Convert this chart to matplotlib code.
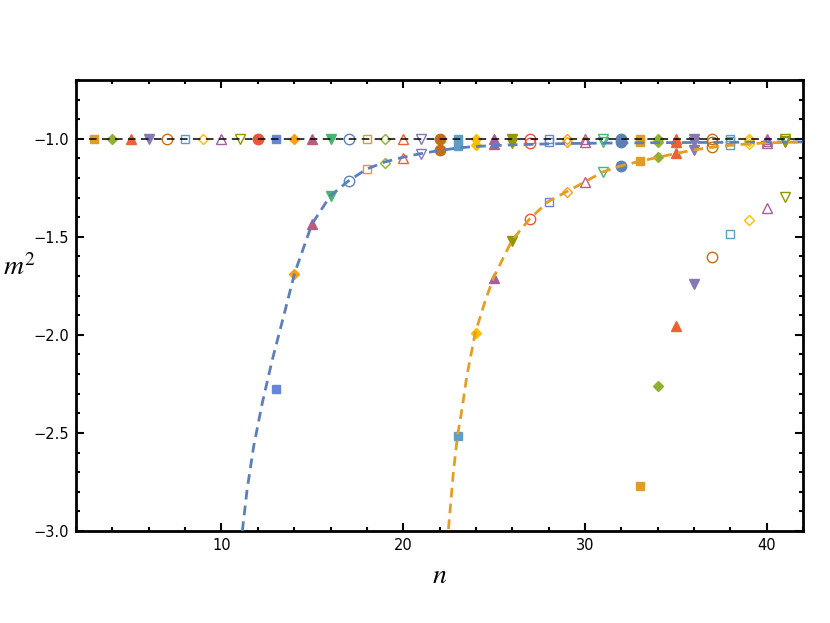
import matplotlib
matplotlib.use("Agg")
import matplotlib.pyplot as plt
from matplotlib.ticker import MultipleLocator

plt.rcParams['mathtext.fontset'] = 'stix'

# Mathematica default colours (ColorData 97) and marker cycle
colors = ['#5E81B5', '#E19C24', '#8FB032', '#EB6235', '#8778B3',
          '#C56E1A', '#5D9EC7', '#FFBF00', '#A5609D', '#929600',
          '#E95536', '#6685D9', '#F89F13', '#BC5B80', '#47B66D']
markers = ['o', 's', 'D', '^', 'v', 'o', 's', 'D', '^', 'v']
msizes = [7.5, 5.8, 5.2, 6.5, 6.5, 7.5, 5.8, 4.8, 6.5, 6.5]

# eigenvalue branches m^2(n)
flat_n = list(range(3, 42))
flat_m2 = [-1.0] * len(flat_n)

branch1_n = list(range(13, 42))
branch1_m2 = [-2.276, -1.69, -1.437, -1.293, -1.216, -1.153, -1.122, -1.097,
              -1.077, -1.055, -1.037, -1.031, -1.027, -1.024, -1.021, -1.019,
              -1.018, -1.017, -1.016, -1.016, -1.015, -1.015, -1.014, -1.014,
              -1.014, -1.013, -1.013, -1.013, -1.013]

branch2_n = list(range(23, 42))
branch2_m2 = [-2.517, -1.99, -1.71, -1.52, -1.41, -1.32, -1.27, -1.22, -1.17,
              -1.14, -1.112, -1.094, -1.074, -1.055, -1.041, -1.032, -1.026,
              -1.022, -1.019]

branch3_n = list(range(33, 42))
branch3_m2 = [-2.772, -2.262, -1.956, -1.743, -1.604, -1.488, -1.415, -1.352, -1.296]

# dashed fit curves
fit1_n = [11.15, 11.41, 11.77, 12.24, 12.79, 13.42, 14.03, 14.97, 15.97, 16.97,
          17.98, 19.0, 20.0, 21.0, 22.0, 23.0, 24.0, 26.0, 28.0, 30.0, 34.0, 38.0, 42.0]
fit1_m2 = [-3.0, -2.79, -2.57, -2.35, -2.13, -1.905, -1.684, -1.437, -1.293, -1.216,
           -1.155, -1.118, -1.094, -1.075, -1.06, -1.047, -1.039, -1.031, -1.026,
           -1.023, -1.02, -1.018, -1.016]

fit2_n = [22.49, 22.76, 22.98, 23.23, 23.5, 23.96, 24.5, 24.96, 25.97, 26.94, 27.98,
          28.99, 29.99, 30.96, 31.9, 33.0, 34.0, 35.0, 36.0, 37.0, 38.0, 39.0, 40.0, 42.0]
fit2_m2 = [-2.99, -2.7, -2.52, -2.38, -2.21, -1.99, -1.83, -1.71, -1.52, -1.41, -1.32,
           -1.27, -1.22, -1.17, -1.14, -1.115, -1.095, -1.075, -1.057, -1.043, -1.033,
           -1.026, -1.021, -1.016]

fig = plt.figure(figsize=(8.3, 6.23), dpi=100)
ax = fig.add_axes([0.0916, 0.1477, 0.876, 0.724])

# collect all values per n so each n gets its own style
points = {}
for ns, vs in [(flat_n, flat_m2), (branch1_n, branch1_m2),
               (branch2_n, branch2_m2), (branch3_n, branch3_m2)]:
    for n, v in zip(ns, vs):
        points.setdefault(n, []).append(v)

for n, vs in sorted(points.items()):
    c = colors[(n - 2) % 15]
    k = (n - 2) % 10
    face = c if k < 5 else 'none'
    ax.plot([n] * len(vs), vs, linestyle='none', marker=markers[k], markersize=msizes[k],
            markerfacecolor=face, markeredgecolor=c, markeredgewidth=1.0, zorder=2)

ax.axhline(-1.0, color='black', lw=1.1, dashes=(5, 3.5), zorder=3)
ax.plot(fit1_n, fit1_m2, color='#5B80B8', lw=2, dashes=(3.5, 2.2), zorder=4)
ax.plot(fit2_n, fit2_m2, color='#E39E26', lw=2, dashes=(3.5, 2.2), zorder=4)

ax.set_xlim(2, 42)
ax.set_ylim(-3.0, -0.7)
ax.xaxis.set_major_locator(MultipleLocator(10))
ax.xaxis.set_minor_locator(MultipleLocator(2))
ax.yaxis.set_major_locator(MultipleLocator(0.5))
ax.yaxis.set_minor_locator(MultipleLocator(0.1))
ax.yaxis.set_major_formatter(matplotlib.ticker.FuncFormatter(lambda v, p: f'{v:.1f}'.replace('-', '\u2212')))
ax.tick_params(which='both', direction='in', top=True, right=True, width=1.5,
               labelsize=10.5, pad=5)
ax.tick_params(which='major', length=6)
ax.tick_params(which='minor', length=3)
for s in ax.spines.values():
    s.set_linewidth(2)

ax.set_xlabel('$n$', fontsize=20, labelpad=6)
ax.set_ylabel('$m^2$', fontsize=20, rotation=0, va='center', ha='center')
ax.yaxis.set_label_coords(-0.078, 0.585)

fig.savefig('out.png', dpi=100)
